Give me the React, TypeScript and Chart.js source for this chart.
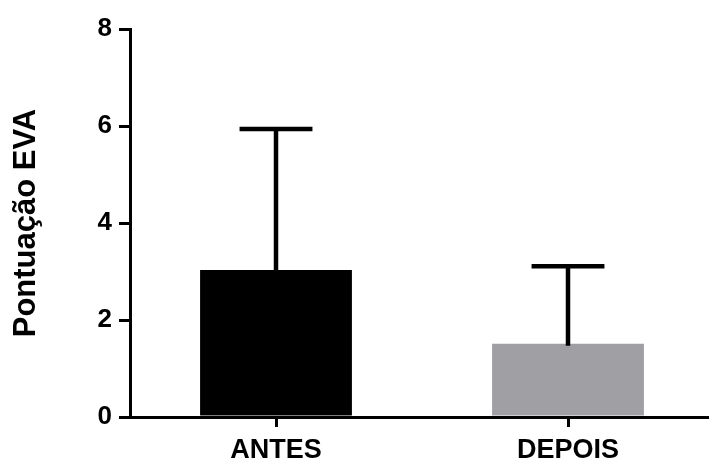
import React, { useEffect, useRef } from "react";
import { Chart, registerables } from "chart.js";

Chart.register(...registerables);

// Group labels, means and standard deviations (upper whisker only)
const categories = ["ANTES", "DEPOIS"];
const means = [3.03, 1.51];
const sds = [2.91, 1.6];
const barColors = ["#000000", "#a09fa4"];
const yTicks = [0, 2, 4, 6, 8];
const yTitle = "Pontuação EVA";

const FONT = "'Liberation Sans', Arial, Helvetica, sans-serif";

// Draws the upper error bar (mean + SD) above each bar, as a T shape
const errorBarPlugin = {
  id: "upperErrorBars",
  afterDatasetsDraw(chart: any) {
    const { ctx } = chart;
    const meta = chart.getDatasetMeta(0);
    const yScale = chart.scales.y;
    ctx.save();
    ctx.strokeStyle = "#000";
    ctx.lineWidth = 4.5;
    ctx.lineCap = "butt";
    meta.data.forEach((bar: any, i: number) => {
      const x = bar.x;
      const yBase = yScale.getPixelForValue(means[i]);
      const yTop = yScale.getPixelForValue(means[i] + sds[i]);
      const half = bar.width * 0.24;
      ctx.beginPath();
      ctx.moveTo(x, yBase + 2);
      ctx.lineTo(x, yTop);
      ctx.stroke();
      ctx.beginPath();
      ctx.moveTo(x - half, yTop);
      ctx.lineTo(x + half, yTop);
      ctx.stroke();
    });
    ctx.restore();
  },
};

export default function App() {
  const canvasRef = useRef<HTMLCanvasElement | null>(null);

  useEffect(() => {
    document.body.style.margin = "0";
    const canvas = canvasRef.current;
    if (!canvas) return;
    const chart = new Chart(canvas, {
      type: "bar",
      data: {
        labels: categories,
        datasets: [
          {
            data: means,
            backgroundColor: barColors,
            borderWidth: 0,
            barPercentage: 0.52,
            categoryPercentage: 1,
          },
        ],
      },
      plugins: [errorBarPlugin],
      options: {
        responsive: false,
        animation: false,
        devicePixelRatio: 1,
        layout: { padding: { top: 29, right: 6, left: 0, bottom: 0 } },
        plugins: {
          legend: { display: false },
          tooltip: { enabled: false },
        },
        scales: {
          x: {
            afterFit: (scale: any) => {
              scale.height = 42;
            },
            grid: {
              display: true,
              drawOnChartArea: false,
              drawTicks: true,
              tickLength: 10,
              lineWidth: 3,
              color: "#000",
              offset: false,
            },
            border: { display: true, color: "#000", width: 3 },
            ticks: {
              color: "#000",
              padding: 7,
              font: { family: FONT, size: 27, weight: "bold" },
            },
          },
          y: {
            min: 0,
            max: 8,
            afterFit: (scale: any) => {
              scale.width = 130;
            },
            afterBuildTicks: (scale: any) => {
              scale.ticks = yTicks.map((v) => ({ value: v }));
            },
            grid: {
              display: true,
              drawOnChartArea: false,
              drawTicks: true,
              tickLength: 11,
              lineWidth: 3,
              color: "#000",
            },
            border: { display: true, color: "#000", width: 3 },
            ticks: {
              color: "#000",
              padding: 7,
              font: { family: FONT, size: 26, weight: "bold" },
            },
            title: {
              display: true,
              text: yTitle,
              color: "#000",
              padding: { top: 8, bottom: 0 },
              font: { family: FONT, size: 31, weight: "bold" },
            },
          },
        },
      },
    });
    return () => chart.destroy();
  }, []);

  return (
    <div
      style={{
        position: "fixed",
        left: 0,
        top: 0,
        width: 709,
        height: 459,
        overflow: "hidden",
        background: "#fff",
      }}
    >
      <canvas
        ref={canvasRef}
        width={720}
        height={459}
        style={{ width: 720, height: 459, display: "block" }}
      />
    </div>
  );
}
